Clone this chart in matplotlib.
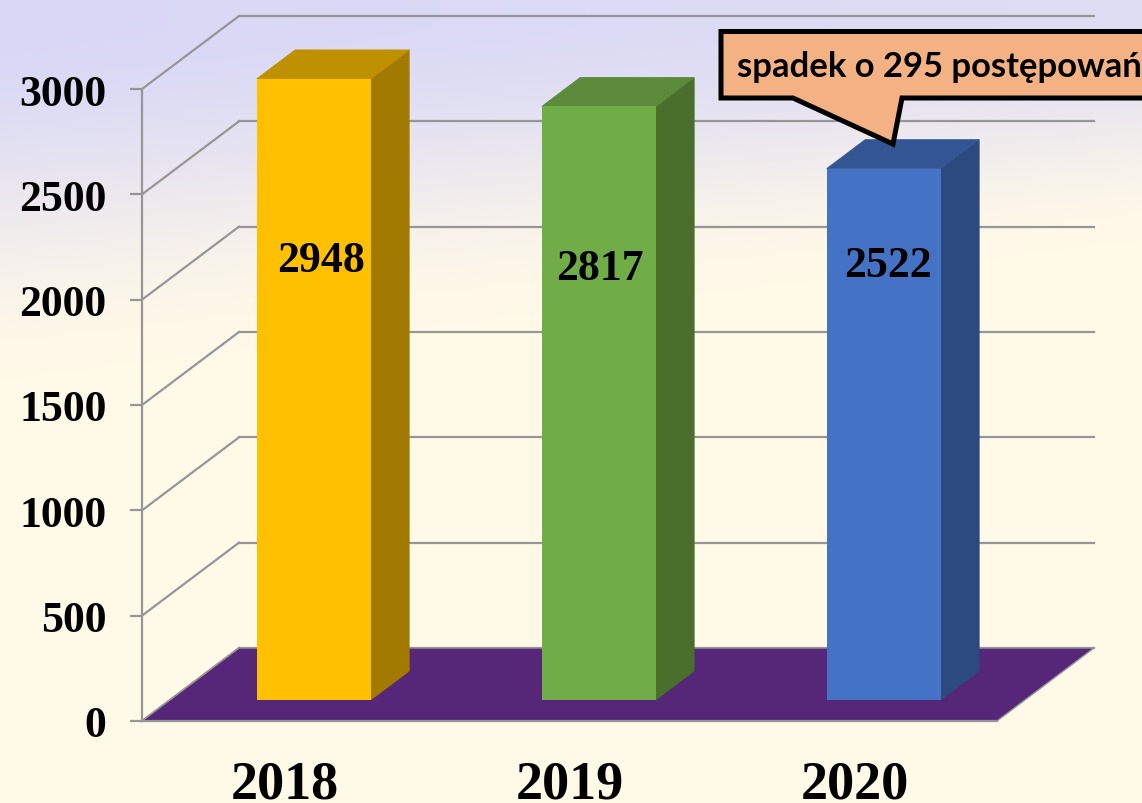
import numpy as np
import matplotlib
matplotlib.use("Agg")
import matplotlib.pyplot as plt
from matplotlib.patches import Polygon
from matplotlib.transforms import Affine2D

years = ["2018", "2019", "2020"]
values = [2948, 2817, 2522]
y_ticks = [0, 500, 1000, 1500, 2000, 2500, 3000]
label_heights = [2190, 2148, 2163]
label_shift = [0.028, 0.0095, 0.0175]
callout_text = "spadek o 295 postępowań"

front_colors = ["#FFC000", "#70AD47", "#4472C4"]
top_colors = ["#BF9000", "#5B8A3A", "#335593"]
side_colors = ["#A27A00", "#4A6E2C", "#2A4A80"]
GRID = "#969696"
FLOOR = "#562678"

W, H = 1142, 804
fig = plt.figure(figsize=(W / 100, H / 100), dpi=100)

# background gradient
bg = fig.add_axes([0, 0, 1, 1], zorder=0)
bg.axis("off")
yy, xx = np.mgrid[0:H, 0:W]
tmid = 110 + 70 * (1 - xx / W) * 1.0
t = np.clip((yy - 20) / (2.0 * tmid), 0, 1)
t = t * t * (3 - 2 * t)
t = np.clip(t + 0.2 * (xx / W) * (1 - t), 0, 1)
top = np.array([216, 215, 246]) / 255
bot = np.array([255, 249, 232]) / 255
img = top[None, None, :] * (1 - t[..., None]) + bot[None, None, :] * t[..., None]
bg.imshow(img, aspect="auto", extent=(0, W, H, 0), interpolation="bilinear")

# plot box (front plane) in pixels
L, R, B, T = 142, 997, 722, 90
ax = fig.add_axes([L / W, 1 - B / H, (R - L) / W, (B - T) / H], zorder=1)
ax.patch.set_alpha(0)
ax.set_xlim(-0.5, 2.5)
ax.set_ylim(0, 3000)

x_per_px = 3 / (R - L)
y_per_px = 3000 / (B - T)
DX = 97 * x_per_px      # depth vector of the 3D box
DY = 73 * y_per_px
F0, F1 = 0.29, 0.685    # bar depth range
BW = 114 * x_per_px
NUDGE = 1.2 * x_per_px


def poly(pts, **kw):
    ax.add_patch(Polygon(pts, closed=True, clip_on=False, **kw))


# walls
for v in y_ticks:
    lw = 1.6
    ax.plot([-0.5, -0.5 + DX], [v, v + DY], color=GRID, lw=lw, clip_on=False, zorder=2)
    ax.plot([-0.5 + DX, 2.5 + DX], [v + DY, v + DY], color=GRID, lw=lw, clip_on=False, zorder=2)

# floor
poly([(-0.5, 0), (2.5, 0), (2.5 + DX, DY), (-0.5 + DX, DY)],
     facecolor=FLOOR, edgecolor=GRID, lw=1.0, zorder=3)

# bars
for i, v in enumerate(values):
    x0 = i + F0 * DX - BW / 2 + NUDGE
    x1 = x0 + BW
    y0 = F0 * DY
    y1 = v + F0 * DY
    d = F1 - F0
    poly([(x1, y0), (x1 + d * DX, y0 + d * DY), (x1 + d * DX, y1 + d * DY), (x1, y1)],
         facecolor=side_colors[i], edgecolor=side_colors[i], lw=0.6, zorder=5)
    poly([(x0, y1), (x1, y1), (x1 + d * DX, y1 + d * DY), (x0 + d * DX, y1 + d * DY)],
         facecolor=top_colors[i], edgecolor=top_colors[i], lw=0.6, zorder=5)
    poly([(x0, y0), (x1, y0), (x1, y1), (x0, y1)], facecolor=front_colors[i],
         edgecolor="none", zorder=6)
    ax.text(i + F0 * DX + label_shift[i], label_heights[i], str(v), ha="center", va="center",
            family="Liberation Serif", weight="bold", fontsize=31.5, color="black", zorder=7)

# axes furniture
for s in ["top", "right"]:
    ax.spines[s].set_visible(False)
ax.spines["left"].set_color(GRID)
ax.spines["left"].set_linewidth(1.6)
ax.spines["bottom"].set_color(GRID)
ax.spines["bottom"].set_linewidth(1.6)
ax.spines["bottom"].set_zorder(4)
ax.set_yticks(y_ticks)
ax.set_yticklabels([str(v) for v in y_ticks], family="Liberation Serif", weight="bold", fontsize=31.5)
ax.tick_params(axis="y", length=8.6, width=1.6, color=GRID, pad=17)
ax.set_xticks(range(len(years)))
ax.set_xticklabels(years, family="Liberation Serif", weight="bold", fontsize=39)
ax.tick_params(axis="x", length=0, pad=27.5)

# callout, in pixel coordinates of the figure
px = Affine2D().scale(1 / W, -1 / H).translate(0, 1) + fig.transFigure
callout = Polygon([(721, 32.5), (1160, 32.5), (1160, 99), (902, 99), (893, 145), (793, 99), (721, 99)],
                  closed=True, transform=px, facecolor="#F4B183", edgecolor="black",
                  lw=3.6, joinstyle="miter", zorder=8, clip_on=False)
fig.add_artist(callout)
fig.text(737 / W, 1 - 77 / H, callout_text, family="Lato", weight="bold", fontsize=24.9,
         color="black", ha="left", va="baseline", zorder=9)

fig.savefig("out.png", dpi=100)
